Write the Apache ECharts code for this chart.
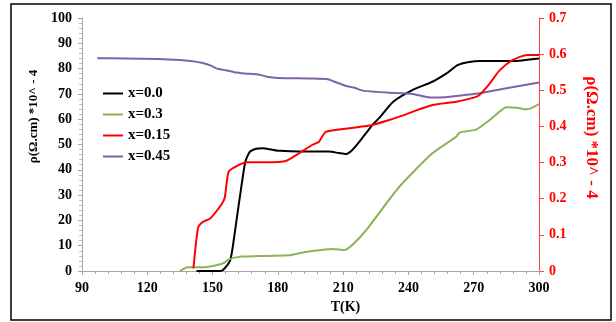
<!DOCTYPE html>
<html>
<head>
<meta charset="utf-8">
<script src="https://cdn.jsdelivr.net/npm/echarts@6/dist/echarts.min.js"></script>
<style>html,body{margin:0;padding:0;background:#fff}#c{width:616px;height:322px}</style>
</head>
<body>
<div id="c"></div>
<script>
// ---- data ----
var seriesNames = ['x=0.0', 'x=0.3', 'x=0.15', 'x=0.45'];

var tBlack = [142.6,153.7,155.5,158,159,161,163,165,167,170,173,177,181,190,203.5,208,211.4,214.2,217.4,223.4,226.6,233,241.8,251,257.5,262.6,268,272.8,288,300];
var vBlack = [0,0,1,4,8,20,32,43,47,48.3,48.5,48,47.5,47.2,47.2,46.6,46.2,47.8,51,57.7,60.5,66.9,71.5,74.8,78.1,81.4,82.6,83,83,84];

var tGreen = [135,138.5,146.6,154,155.5,157.4,163.4,171.2,185,189.7,195.7,205,210.5,214.2,220.6,235.8,251,262,263.5,271.4,277.4,285.2,290,294.5,300];
var vGreen = [0,1.5,1.5,2.8,3.3,4.6,5.7,5.9,6.2,7.0,7.9,8.7,8.3,10.3,16.2,33.3,46.5,53.1,54.7,56,59.7,64.7,64.5,63.9,66];

var tRed = [141.2,142.5,143.5,145.8,148.9,152.8,155.5,157.4,162,165.7,175,183.7,189.7,195.7,198.9,202,212.8,223.4,231.2,235.8,251,262,271.4,273.7,277.4,282,288,294.5,300];
var vRed = [1,12,17.5,19.5,20.8,24.8,28.7,39.3,41.9,43,43,43.5,46.5,49.8,51.1,55,56.4,57.7,59.7,61,65.6,66.9,68.9,70.5,74.2,79.4,83.4,85.4,85.4];

var tPurple = [97,110,125,135,140,145,149,152,155,160,165,171,175,180,195,203,207,212,215,219,225,231,242,250,257,265,273,285,300];
var vPurple = [84.1,84.0,83.8,83.4,83.0,82.3,81.3,80.0,79.5,78.6,78.1,77.7,76.8,76.3,76.1,75.8,74.5,73.0,72.5,71.3,70.8,70.5,70.0,68.6,68.7,69.5,70.3,72.2,74.5];

var arrowStart = [266.8, 67.6];
var arrowEnd = [301.5, 70.9];

function pairs(t, v) { return t.map(function (x, i) { return [x, v[i]]; }); }

var font = 'Liberation Serif';
var chart = echarts.init(document.getElementById('c'), null, {renderer: 'canvas'});

function mkSeries(name, t, v, color, extra) {
  var s = {
    name: name, type: 'line', data: pairs(t, v), showSymbol: false, symbol: 'none',
    smooth: 0.2, lineStyle: {color: color, width: 2}, itemStyle: {color: color},
    xAxisIndex: 0, yAxisIndex: 0, z: 3
  };
  if (extra) Object.assign(s, extra);
  return s;
}

chart.setOption({
  animation: false,
  backgroundColor: '#fff',
  graphic: [{
    type: 'rect', shape: {x: 11, y: 4, width: 600, height: 316},
    style: {fill: 'none', stroke: '#000', lineWidth: 1.5}, z: 0, silent: true
  }],
  grid: {left: 82, right: 77, top: 18, bottom: 51, containLabel: false},
  legend: {
    orient: 'vertical', left: 103, top: 86, itemWidth: 20, itemHeight: 2, itemGap: 6,
    icon: 'rect', padding: 0, data: seriesNames,
    textStyle: {fontFamily: font, fontWeight: 'bold', fontSize: 15, color: '#000', lineHeight: 15}
  },
  xAxis: {
    type: 'value', min: 90, max: 300, interval: 30,
    name: 'T(K)', nameLocation: 'middle', nameGap: 24,
    nameTextStyle: {fontFamily: font, fontWeight: 'bold', fontSize: 14, color: '#000', padding: [0, 0, 0, 70]},
    axisLine: {show: true, lineStyle: {color: '#a6a6a6', width: 1}},
    axisTick: {show: true, length: 4, lineStyle: {color: '#a6a6a6'}},
    minorTick: {show: true, splitNumber: 5, length: 3, lineStyle: {color: '#a6a6a6'}},
    splitLine: {show: false},
    axisLabel: {fontFamily: font, fontWeight: 'bold', fontSize: 14, color: '#000', margin: 10}
  },
  yAxis: [{
    type: 'value', min: 0, max: 100, interval: 10, position: 'left',
    name: 'ρ(Ω.cm) *10^ - 4', nameLocation: 'middle', nameGap: 41,
    nameTextStyle: {fontFamily: font, fontWeight: 'bold', fontSize: 13, color: '#000', padding: [0, 0, 0, 56]},
    axisLine: {show: true, lineStyle: {color: '#a6a6a6', width: 1}},
    axisTick: {show: true, length: 4, lineStyle: {color: '#a6a6a6'}},
    minorTick: {show: true, splitNumber: 5, length: 3, lineStyle: {color: '#c0c0c0'}},
    splitLine: {show: false},
    axisLabel: {fontFamily: font, fontWeight: 'bold', fontSize: 14, color: '#000', margin: 10}
  }, {
    type: 'value', min: 0, max: 0.7, interval: 0.1, position: 'right',
    name: 'ρ(Ω.cm) *10^ - 4', nameLocation: 'middle', nameGap: 44, nameRotate: -90,
    nameTextStyle: {fontFamily: font, fontWeight: 'bold', fontSize: 17, color: '#ff0000', padding: [0, 14, 0, 0]},
    axisLine: {show: true, lineStyle: {color: '#ff4040', width: 1}},
    axisTick: {show: true, length: 5, lineStyle: {color: '#ff4040'}},
    splitLine: {show: false},
    axisLabel: {fontFamily: font, fontWeight: 'bold', fontSize: 14, color: '#ff0000', margin: 10,
      formatter: function (v) { return v === 0 ? '0' : v.toFixed(1); }}
  }],
  series: [
    mkSeries(seriesNames[0], tBlack, vBlack, '#000000'),
    mkSeries(seriesNames[1], tGreen, vGreen, '#8cb357'),
    mkSeries(seriesNames[2], tRed, vRed, '#ff0000', {
      z: 4,
      markLine: {
        silent: true, symbol: ['none', 'arrow'], symbolSize: 8,
        lineStyle: {color: '#eaa6a6', width: 1.5, type: 'solid'}, label: {show: false},
        data: [[{coord: arrowStart}, {coord: arrowEnd}]]
      }
    }),
    mkSeries(seriesNames[3], tPurple, vPurple, '#7e63a8')
  ]
});
</script>
</body>
</html>
